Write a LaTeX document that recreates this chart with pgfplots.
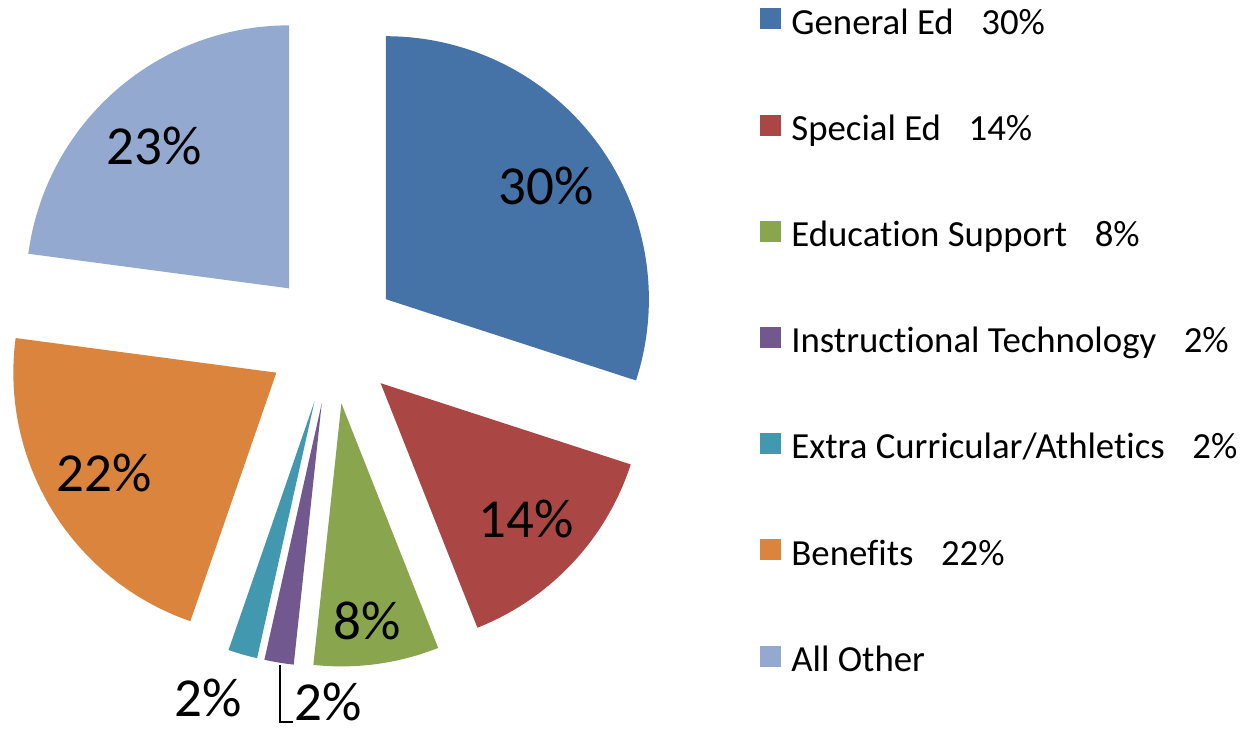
\documentclass[border=0pt]{standalone}
\usepackage{pgfplots}
\pgfplotsset{compat=1.18}
\usepackage{fontspec}
\setmainfont[Ligatures=NoCommon]{Carlito}
\definecolor{c1}{HTML}{4572A7}
\definecolor{c2}{HTML}{AA4643}
\definecolor{c3}{HTML}{89A54E}
\definecolor{c4}{HTML}{71588F}
\definecolor{c5}{HTML}{4198AF}
\definecolor{c6}{HTML}{DB843D}
\definecolor{c7}{HTML}{93A9CF}
% pie geometry (axis units = pixels)
\def\cx{332.5}\def\cy{391}\def\dd{66}\def\rr{263}
% #1 cumulative start (%), #2 share (%), #3 colour
\newcommand\pieslice[3]{%
  \pgfmathsetmacro\aS{90-3.6*#1}%
  \pgfmathsetmacro\aE{90-3.6*(#1+#2)}%
  \pgfmathsetmacro\aM{(\aS+\aE)/2}%
  \pgfmathsetmacro\ox{\cx+\dd*cos(\aM)}%
  \pgfmathsetmacro\oy{\cy+\dd*sin(\aM)}%
  \edef\doplot{\noexpand\addplot[fill=#3, draw=none, domain=\aE:\aS, samples=120, forget plot]
    ({\ox+\rr*cos(x)},{\oy+\rr*sin(x)}) -- (axis cs:\ox,\oy) -- cycle;}%
  \doplot
}
\begin{document}
\begin{tikzpicture}
\begin{axis}[
  x=0.5pt, y=0.5pt, xmin=0, xmax=1249, ymin=0, ymax=729,
  hide axis, clip=false,
  sq/.style={legend image code/.code={\fill[##1, draw=none] (0pt,-0.2pt) rectangle (10.5pt,10.3pt);}},
  legend cell align=left,
  legend style={at={(axis cs:754,725)}, anchor=north west, draw=none, fill=none,
    font=\fontsize{18.4}{21}\selectfont, row sep=37.8pt,
    nodes={inner sep=0pt, text depth=0.25em, text height=0.75em},
    /tikz/every odd column/.append style={column sep=5pt}},
]
\path (axis cs:0,0) rectangle (axis cs:1249,729);
\pieslice{0}{30.0}{c1}
\pieslice{30.0}{14.0}{c2}
\pieslice{44.0}{7.7}{c3}
\pieslice{51.7}{1.8}{c4}
\pieslice{53.5}{1.8}{c5}
\pieslice{55.3}{21.8}{c6}
\pieslice{77.1}{22.9}{c7}
\addlegendimage{sq, fill=c1}\addlegendentry{General Ed\hspace{0.75em}30\%}
\addlegendimage{sq, fill=c2}\addlegendentry{Special Ed\hspace{0.75em}14\%}
\addlegendimage{sq, fill=c3}\addlegendentry{Education Support\hspace{0.75em}8\%}
\addlegendimage{sq, fill=c4}\addlegendentry{Instructional Technology\hspace{0.75em}2\%}
\addlegendimage{sq, fill=c5}\addlegendentry{Extra Curricular/Athletics\hspace{0.75em}2\%}
\addlegendimage{sq, fill=c6}\addlegendentry{Benefits\hspace{0.75em}22\%}
\addlegendimage{sq, fill=c7}\addlegendentry{All Other}
\begin{scope}[every node/.style={font=\fontsize{27.5}{30}\selectfont, inner sep=0pt}]
\node at (axis cs:546,543.5) {30\%};
\node at (axis cs:526.5,210.5) {14\%};
\node at (axis cs:367,108) {8\%};
\node at (axis cs:154,583) {23\%};
\node at (axis cs:104.5,256.5) {22\%};
\node at (axis cs:208,31) {2\%};
\node at (axis cs:328,27.5) {2\%};
\end{scope}
\draw[black, line width=0.6pt] (axis cs:280,64) -- (axis cs:280,7) -- (axis cs:293,7);
\end{axis}
\end{tikzpicture}
\end{document}
